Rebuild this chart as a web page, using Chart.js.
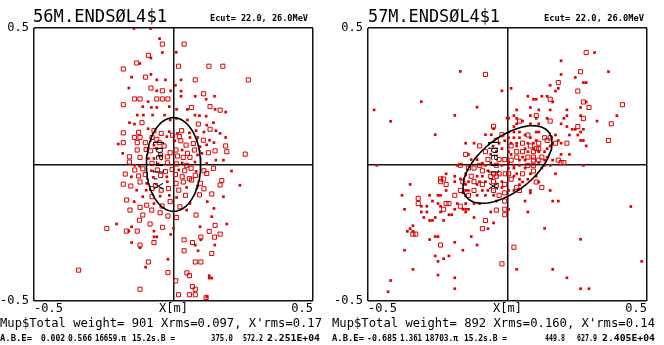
<!DOCTYPE html>
<html>
<head>
<meta charset="utf-8">
<script src="https://cdn.jsdelivr.net/npm/chart.js@4.4.1/dist/chart.umd.min.js"></script>
<style>
  body { margin: 0; background: #fff; width: 664px; height: 345px; overflow: hidden; position: relative; }
  .panel { position: absolute; top: 0; width: 332px; height: 345px; }
</style>
</head>
<body>
<div class="panel" style="left:0"><canvas id="c56" width="332" height="345"></canvas></div>
<div class="panel" style="left:332px"><canvas id="c57" width="332" height="345"></canvas></div>
<script>
// axis ticks (both panels)
const xTicks = [-0.5, 0, 0.5];
const xTickLabels = ["-0.5", "X[m]", "0.5"];
const yTicks = [-0.5, 0, 0.5];
const yTickLabels = ["-0.5", "", "0.5"];

// Twiss values printed under each panel (A, B, E) -> rms ellipse
const twiss56 = { alpha: 0.002, beta: 0.566, emit: 0.016659 };
const twiss57 = { alpha: -0.685, beta: 1.361, emit: 0.018703 };

// panel 56M : particles [x (m), x' (rad)], open squares and small dots
const open56 = [[-0.04,0.441],[-0.09,0.40],[-0.132,0.372],[-0.18,0.35],[-0.1,0.32],[-0.081,0.28],[-0.04,0.27],[-0.14,0.24],[-0.12,0.24],[-0.06,0.24],[-0.04,0.24],[-0.02,0.24],
  [0.038,0.441],[0.018,0.36],[0.127,0.36],[0.177,0.36],[0.078,0.31],[0.268,0.31],[0.108,0.259],[0.257,0.038],
  [-0.169,-0.244],[-0.13,-0.244],[-0.12,-0.295],[-0.07,-0.286],[-0.09,-0.357],[-0.02,-0.396],[-0.34,-0.387],[-0.12,-0.457],
  [0.038,-0.276],[0.068,-0.286],[0.038,-0.316],[0.137,-0.326],[0.078,-0.357],[0.098,-0.357],[0.048,-0.397],[0.057,-0.407],[0.008,-0.426],[0.068,-0.447],[0.078,-0.457],[0.018,-0.477],[0.057,-0.477],[0.078,-0.477],[0.117,-0.487],[0.128,-0.245],[0.147,-0.266],[0.167,-0.255],[0.098,-0.266],
  [-0.18,0.219],[0.064,0.209],[0.131,0.212],[0.167,0.199],[0.089,0.148],[-0.113,0.153],[-0.18,0.116],[-0.125,0.118],[-0.07,0.124],[-0.044,0.114],[0.029,0.124],[0.131,0.129],
  [-0.14,0.099],[-0.12,0.099],[-0.077,0.099],[-0.06,0.092],[-0.003,0.107],[0.021,0.102],[0.107,0.089],[-0.18,0.08],[-0.13,0.08],[-0.101,0.08],[-0.051,0.08],[-0.034,0.068],
  [0.026,0.087],[0.045,0.071],[0.071,0.077],[0.187,0.068],[-0.13,0.053],[-0.098,0.055],[-0.082,0.05],[-0.012,0.043],[0.009,0.053],[0.05,0.041],[0.075,0.053],[0.125,0.043],
  [0.149,0.05],[0.191,0.047],[-0.158,0.028],[-0.12,0.026],[-0.046,0.035],[-0.022,0.028],[0.014,0.031],[0.035,0.026],[0.059,0.026],[-0.158,0.009],[-0.077,0.004],[-0.022,0.006],
  [0.011,0.002],[0.047,-0.003],[0.143,-0.014],[-0.139,-0.02],[-0.11,-0.016],[-0.058,-0.02],[-0.029,-0.026],[-0.005,-0.018],[0.04,-0.023],[0.063,-0.014],[0.109,-0.023],
  [-0.173,-0.035],[-0.125,-0.042],[-0.101,-0.037],[-0.046,-0.04],[0.007,-0.037],[0.031,-0.045],[0.057,-0.052],[0.078,-0.04],[0.119,-0.033],[-0.18,-0.072],[-0.153,-0.079],
  [-0.12,-0.064],[-0.065,-0.077],[0.009,-0.069],[0.035,-0.064],[0.065,-0.057],[0.097,-0.069],[0.109,-0.089],[0.173,-0.059],[0.167,-0.075],[-0.077,-0.088],[-0.044,-0.094],
  [-0.018,-0.088],[0.019,-0.094],[-0.077,-0.118],[0.043,-0.113],[0.093,-0.111],[0.137,-0.108],[-0.168,-0.13],[-0.12,-0.157],[-0.096,-0.149],[-0.041,-0.152],[-0.012,-0.136],
  [0.023,-0.155],[-0.156,-0.167],[-0.11,-0.185],[-0.078,-0.167],[-0.048,-0.177],[-0.02,-0.189],[0.011,-0.194],[0.081,-0.185],[-0.239,-0.234],[-0.122,-0.204],[-0.084,-0.218],
  [-0.039,-0.23],[0.149,-0.223]];
const dot56 = [[-0.142,0.498],[-0.082,0.498],[-0.05,0.461],[-0.04,0.41],[-0.081,0.39],[-0.121,0.37],[-0.081,0.33],[-0.15,0.32],[-0.06,0.31],[-0.029,0.31],[-0.16,0.28],[-0.06,0.27],[-0.01,0.27],
  [0.01,0.411],[0.027,0.31],[0.007,0.29],[0.027,0.269],[0.027,0.25],[0.078,0.25],[0.147,0.25],[0.117,0.239],
  [-0.16,-0.244],[-0.07,-0.244],[-0.01,-0.256],[-0.07,-0.265],[-0.06,-0.265],[-0.15,-0.286],[-0.12,-0.305],[-0.02,-0.347],[-0.1,-0.376],
  [0.208,-0.024],[0.238,-0.076],[0.078,-0.295],[0.148,-0.295],[0.088,-0.316],[0.128,-0.407],[0.128,-0.416],[0.137,-0.416],[0.098,-0.276],[0.119,-0.485],
  [-0.11,0.212],[-0.091,0.23],[-0.079,0.209],[-0.06,0.209],[-0.015,0.212],[0.011,0.202],[0.05,0.202],[0.077,0.181],[0.093,0.179],[0.117,0.177],[0.149,0.202],[0.187,0.192],
  [-0.13,0.181],[-0.108,0.181],[-0.075,0.181],[-0.032,0.181],[-0.012,0.163],[0.011,0.169],[0.05,0.163],[0.119,0.144],[0.143,0.153],[-0.14,0.148],[-0.158,0.153],[-0.091,0.131],
  [-0.015,0.12],[0.014,0.114],[0.057,0.116],[0.081,0.124],[0.109,0.119],[0.152,0.124],[0.167,0.114],[-0.024,0.102],[0.059,0.099],[0.087,0.099],[0.129,0.089],[0.187,0.099],
  [-0.198,0.075],[-0.07,0.071],[0.005,0.087],[0.095,0.065],[0.119,0.072],[0.145,0.08],[-0.182,0.041],[-0.06,0.058],[0.031,0.053],[0.102,0.041],[-0.09,0.022],[-0.07,0.022],
  [0.086,0.035],[0.152,0.016],[0.179,0.016],[-0.139,-0.003],[-0.122,-0.006],[-0.055,0.002],[0.031,0.006],[0.077,0.009],[0.119,0.004],[-0.079,-0.023],[0.019,-0.02],[0.081,-0.025],
  [-0.151,-0.045],[-0.072,-0.047],[-0.024,-0.045],[-0.096,-0.069],[-0.022,-0.063],[-0.132,-0.094],[-0.098,-0.094],[0.047,-0.084],[0.086,-0.079],[-0.11,-0.118],[-0.048,-0.116],
  [-0.015,-0.113],[0.011,-0.121],[0.179,-0.118],[-0.141,-0.136],[-0.07,-0.143],[0.059,-0.143],[0.121,-0.136],[0.145,-0.161],[0.047,-0.167],[0.137,-0.191],[-0.204,-0.218],
  [-0.15,-0.228],[0,-0.234],[0.095,-0.228],[0.191,-0.218]];

// panel 57M
const open57 = [[-0.079,0.33],[-0.05,0.14],[-0.02,0.109],[-0.1,0.068],[-0.04,0.089],[-0.079,0.047],[-0.15,0.037],[-0.07,0.018],[-0.03,0.018],[-0.01,0.018],[-0.1,-0.003],[-0.04,-0.003],
  [-0.169,-0.003],[-0.14,-0.013],[-0.12,-0.013],[-0.09,-0.023],[-0.05,-0.034],[-0.03,-0.034],[-0.008,-0.034],[-0.13,-0.043],[-0.06,-0.043],[-0.04,-0.043],[-0.24,-0.053],[-0.229,-0.053],
  [-0.24,-0.063],[-0.16,-0.063],[-0.12,-0.063],[-0.05,-0.063],[-0.22,-0.073],[-0.09,-0.073],[-0.04,-0.076],[-0.01,-0.073],[-0.169,-0.095],[-0.12,-0.095],[-0.05,-0.095],[-0.189,-0.113],
  [-0.14,-0.113],[-0.03,-0.113],[-0.01,-0.104],[-0.32,-0.124],[-0.22,-0.143],[-0.21,-0.143],[-0.169,-0.153],[-0.01,-0.134],[-0.32,-0.143],[-0.229,-0.164],[-0.04,-0.167],[-0.01,-0.164],
  [-0.01,-0.184],[-0.079,-0.205],[-0.09,-0.235],[-0.339,-0.255],[-0.329,-0.255],[-0.24,-0.295],[-0.02,-0.364],
  [0.282,0.41],[0.262,0.34],[0.182,0.3],[0.252,0.269],[0.153,0.239],[0.272,0.229],[0.412,0.219],[0.292,0.209],[0.103,0.179],[0.272,0.169],[0.043,0.159],[0.153,0.159],[0.372,0.149],
  [0.252,0.139],[0.073,0.108],[0.133,0.098],[0.153,0.098],[0.362,0.088],[0.054,0.078],[0.112,0.078],[0.142,0.088],[0.172,0.078],[0.213,0.078],[0.013,0.068],[0.082,0.068],[0.103,0.058],
  [0.112,0.058],[0.033,0.047],[0.054,0.047],[0.093,0.047],[0.033,0.027],[0.073,0.027],[0.093,0.027],[0.123,0.027],[0.182,0.016],[0.013,0.016],[0.093,0.016],[0.112,0.016],[0.192,0.007],
  [0.202,0.007],[0.073,-0.003],[0.093,-0.003],[0.093,-0.024],[0.004,-0.034],[0.054,-0.034],[0.013,-0.054],[0.103,-0.064],[0.033,-0.084],[0.043,-0.095],[0.123,-0.084],[0.023,-0.303]];
const dot57 = [[-0.169,0.341],[-0.02,0.27],[-0.309,0.23],[-0.478,0.2],[-0.109,0.21],[-0.419,0.158],[-0.189,0.18],[-0.002,0.17],[-0.05,0.131],[-0.259,0.109],[-0.15,0.078],[-0.12,0.078],
  [-0.079,0.109],[-0.058,0.109],[-0.03,0.078],[-0.01,0.087],[-0.052,0.067],[-0.06,0.037],[-0.14,0.037],[-0.04,0.047],[-0.02,0.058],[-0.13,0.018],[-0.109,0.018],[-0.09,0.005],
  [-0.079,-0.003],[-0.06,0.005],[-0.02,-0.003],[-0.469,-0.003],[-0.18,-0.003],[-0.07,-0.023],[-0.22,-0.034],[-0.189,-0.043],[-0.15,-0.034],[-0.109,-0.043],[-0.09,-0.043],
  [-0.169,-0.053],[-0.189,-0.063],[-0.14,-0.063],[-0.1,-0.063],[-0.079,-0.063],[-0.02,-0.063],[-0.349,-0.073],[-0.15,-0.073],[-0.109,-0.073],[-0.16,-0.104],[-0.15,-0.095],
  [-0.14,-0.095],[-0.09,-0.095],[-0.07,-0.095],[-0.02,-0.084],[-0.22,-0.095],[-0.109,-0.113],[-0.079,-0.113],[-0.05,-0.113],[-0.378,-0.113],[-0.279,-0.113],[-0.249,-0.113],
  [-0.24,-0.113],[-0.269,-0.134],[-0.249,-0.143],[-0.18,-0.143],[-0.15,-0.143],[-0.12,-0.143],[-0.1,-0.143],[-0.04,-0.134],[-0.309,-0.153],[-0.289,-0.153],[-0.24,-0.153],
  [-0.16,-0.164],[-0.15,-0.164],[-0.14,-0.164],[-0.189,-0.164],[-0.369,-0.164],[-0.309,-0.174],[-0.289,-0.174],[-0.24,-0.174],[-0.21,-0.184],[-0.2,-0.184],[-0.15,-0.174],
  [-0.06,-0.174],[-0.3,-0.194],[-0.259,-0.194],[-0.12,-0.194],[-0.279,-0.205],[-0.269,-0.205],[-0.229,-0.205],[-0.05,-0.214],[-0.339,-0.224],[-0.349,-0.235],[-0.07,-0.235],
  [-0.359,-0.245],[-0.339,-0.245],[-0.13,-0.264],[-0.259,-0.264],[-0.249,-0.264],[-0.279,-0.275],[-0.189,-0.285],[-0.109,-0.295],[-0.369,-0.314],[-0.16,-0.314],[-0.259,-0.335],
  [-0.229,-0.345],[-0.21,-0.335],[-0.249,-0.355],[-0.339,-0.384],[-0.249,-0.405],[-0.189,-0.415],[-0.419,-0.425],[-0.189,-0.455],[-0.428,-0.466],
  [0.312,0.41],[0.192,0.38],[0.362,0.34],[0.192,0.33],[0.243,0.319],[0.272,0.3],[0.282,0.3],[0.013,0.279],[0.153,0.29],[0.182,0.279],[0.172,0.269],[0.073,0.25],[0.093,0.239],
  [0.103,0.239],[0.123,0.25],[0.142,0.25],[0.162,0.229],[0.282,0.229],[0.082,0.209],[0.112,0.2],[0.153,0.2],[0.262,0.209],[0.033,0.2],[0.213,0.2],[0.023,0.179],[0.082,0.179],
  [0.142,0.169],[0.202,0.169],[0.213,0.179],[0.262,0.179],[0.392,0.179],[0.004,0.169],[0.033,0.169],[0.054,0.159],[0.103,0.169],[0.321,0.159],[0.023,0.139],[0.033,0.149],
  [0.082,0.149],[0.112,0.149],[0.192,0.149],[0.213,0.139],[0.232,0.129],[0.243,0.129],[0.262,0.119],[0.272,0.129],[0.004,0.119],[0.023,0.119],[0.043,0.119],[0.063,0.108],
  [0.103,0.119],[0.112,0.119],[0.222,0.108],[0.252,0.108],[0.004,0.098],[0.023,0.098],[0.043,0.098],[0.082,0.098],[0.172,0.108],[0.262,0.088],[0.272,0.088],[0.013,0.078],
  [0.033,0.078],[0.073,0.078],[0.093,0.078],[0.103,0.088],[0.162,0.078],[0.182,0.088],[0.192,0.078],[0.033,0.068],[0.063,0.058],[0.093,0.058],[0.142,0.058],[0.153,0.068],
  [0.282,0.068],[0.004,0.047],[0.073,0.047],[0.112,0.047],[0.133,0.047],[0.192,0.037],[0.222,0.037],[0.013,0.037],[0.054,0.027],[0.142,0.027],[0.162,0.016],[0.043,0.016],
  [0.063,0.016],[0.133,0.016],[0.004,0.007],[0.023,-0.003],[0.043,-0.003],[0.112,0.007],[0.133,-0.003],[0.153,-0.003],[0.272,-0.003],[0.004,-0.013],[0.023,-0.013],[0.063,-0.013],
  [0.123,-0.013],[0.033,-0.034],[0.082,-0.034],[0.172,-0.034],[0.023,-0.043],[0.043,-0.054],[0.073,-0.054],[0.103,-0.043],[0.054,-0.064],[0.112,-0.064],[0.043,-0.074],
  [0.023,-0.095],[0.004,-0.095],[0.082,-0.095],[0.153,-0.095],[0.082,-0.104],[0.063,-0.134],[0.162,-0.134],[0.182,-0.134],[0.442,-0.154],[0.004,-0.164],[0.073,-0.174],
  [0.133,-0.234],[0.262,-0.274],[0.481,-0.355],[0.033,-0.384],[0.162,-0.384],[0.213,-0.415],[0.262,-0.455],[0.292,-0.455]];

const MONO = '"DejaVu Sans Mono", "Liberation Mono", monospace';
const RED = "rgb(222,0,0)";

function toXY(list) {
  return list.map(p => ({ x: p[0], y: p[1] }));
}

// rms ellipse gamma*x^2 + 2*alpha*x*x' + beta*x'^2 = emit
function rmsEllipse(t) {
  const pts = [];
  for (let i = 0; i <= 120; i++) {
    const phi = (i / 120) * 2 * Math.PI;
    const x = Math.sqrt(t.emit * t.beta) * Math.cos(phi);
    const xp = -Math.sqrt(t.emit / t.beta) * (t.alpha * Math.cos(phi) + Math.sin(phi));
    pts.push({ x: x, y: xp });
  }
  return pts;
}

// write text stretched / squeezed between x0 and x1 (plotter lettering is wide)
function fitText(ctx, txt, x0, x1, y) {
  const w = ctx.measureText(txt).width;
  ctx.save();
  ctx.translate(x0, y);
  ctx.scale((x1 - x0) / w, 1);
  ctx.fillText(txt, 0, 0);
  ctx.restore();
}

// texts above / below each frame
const panelText = {
  id: "panelText",
  afterDraw(chart, args, o) {
    const ctx = chart.ctx;
    const a = chart.chartArea;
    ctx.save();
    ctx.fillStyle = "#000";
    ctx.textAlign = "left";
    ctx.textBaseline = "alphabetic";
    ctx.font = "17px " + MONO;
    fitText(ctx, o.title, o.title_x[0], o.title_x[1], 22);
    ctx.font = "bold 8.6px " + MONO;
    fitText(ctx, o.ecut, o.ecut_x[0], o.ecut_x[1], 21);
    ctx.font = "12.2px " + MONO;
    fitText(ctx, o.weight, 0, o.weightEnd, 327);
    ctx.font = "bold 8.6px " + MONO;
    o.abe.forEach(s => fitText(ctx, s[0], s[1], s[2], 341));
    // X'[rad] written up the vertical axis
    ctx.translate(o.yLabelX, (a.top + a.bottom) / 2);
    ctx.rotate(-Math.PI / 2);
    ctx.textAlign = "center";
    ctx.font = "12px " + MONO;
    ctx.fillText("X'[rad]", 0, 0);
    ctx.restore();
  }
};

function makePanel(id, openPts, dotPts, twiss, yWidth, padRight, text) {
  const axisFont = { family: MONO, size: 12 };
  new Chart(document.getElementById(id), {
    type: "scatter",
    data: {
      datasets: [
        { data: rmsEllipse(twiss), showLine: true, pointRadius: 0, borderColor: "#000", borderWidth: 1.6, fill: false, order: 0 },
        { data: toXY(openPts), pointStyle: "rect", pointRadius: 2.9, borderWidth: 1, borderColor: RED, backgroundColor: "rgba(0,0,0,0)", order: 1 },
        { data: toXY(dotPts), pointStyle: "rect", pointRadius: 1.9, borderWidth: 0, backgroundColor: RED, order: 2 }
      ]
    },
    options: {
      responsive: false,
      animation: false,
      events: [],
      devicePixelRatio: 1,
      layout: { padding: { left: 0, right: padRight, top: 28, bottom: 0 } },
      plugins: { legend: { display: false }, tooltip: { enabled: false }, panelText: text },
      scales: {
        x: {
          type: "linear", min: -0.5, max: 0.5,
          afterBuildTicks: s => { s.ticks = xTicks.map(v => ({ value: v })); },
          afterFit: s => { s.height = 44; },
          ticks: { callback: (v, i) => xTickLabels[i], align: "inner", padding: 1, color: "#000", font: axisFont, maxRotation: 0, autoSkip: false },
          grid: { color: "#111", lineWidth: 1.5, drawTicks: false },
          border: { display: false }
        },
        y: {
          type: "linear", min: -0.5, max: 0.5,
          afterBuildTicks: s => { s.ticks = yTicks.map(v => ({ value: v })); },
          afterFit: s => { s.width = yWidth; },
          ticks: { callback: (v, i) => yTickLabels[i], padding: 5, color: "#000", font: axisFont, autoSkip: false },
          grid: { color: "#111", lineWidth: 1.5, drawTicks: false },
          border: { display: false }
        }
      }
    },
    plugins: [panelText]
  });
}

makePanel("c56", open56, dot56, twiss56, 34, 19, {
  title: "56M.ENDSØL4$1", title_x: [33, 167], ecut: "Ecut= 22.0, 26.0MeV", ecut_x: [210, 308],
  weight: "Mup$Total weight= 901 Xrms=0.097, X'rms=0.17", weightEnd: 322,
  abe: [["A.B.E=", 0, 32], ["0.002", 41, 65], ["0.566", 68, 92], ["16659.π", 95, 126], ["15.2s.B =", 132, 175],
        ["375.0", 211, 233], ["572.2", 243, 263], ["2.251E+04", 267, 320]],
  yLabelX: 163
});
makePanel("c57", open57, dot57, twiss57, 36, 17, {
  title: "57M.ENDSØL4$1", title_x: [36, 168], ecut: "Ecut= 22.0, 26.0MeV", ecut_x: [212, 312],
  weight: "Mup$Total weight= 892 Xrms=0.160, X'rms=0.14", weightEnd: 323,
  abe: [["A.B.E=", 0, 32], ["-0.685", 35, 65], ["1.361", 68, 90], ["18703.π", 93, 126], ["15.2s.B =", 132, 175],
        ["449.8", 213, 233], ["627.9", 245, 265], ["2.405E+04", 270, 323]],
  yLabelX: 166
});
</script>
</body>
</html>
